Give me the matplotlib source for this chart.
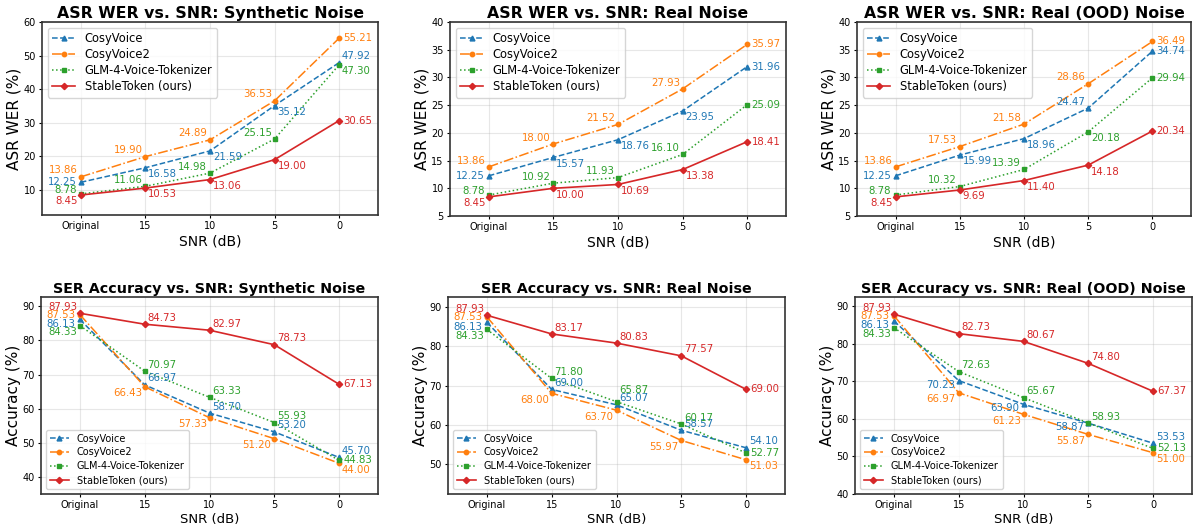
import matplotlib
matplotlib.use("Agg")
from matplotlib import pyplot as plt

# x categories
snr_labels = ['Original', '15', '10', '5', '0']
models = ['CosyVoice', 'CosyVoice2', 'GLM-4-Voice-Tokenizer', 'StableToken (ours)']

# ASR WER (%)
asr_syn_cosy = [12.25, 16.58, 21.59, 35.12, 47.92]
asr_syn_cosy2 = [13.86, 19.90, 24.89, 36.53, 55.21]
asr_syn_glm = [8.78, 11.06, 14.98, 25.15, 47.30]
asr_syn_stable = [8.45, 10.53, 13.06, 19.00, 30.65]

asr_real_cosy = [12.25, 15.57, 18.76, 23.95, 31.96]
asr_real_cosy2 = [13.86, 18.00, 21.52, 27.93, 35.97]
asr_real_glm = [8.78, 10.92, 11.93, 16.10, 25.09]
asr_real_stable = [8.45, 10.00, 10.69, 13.38, 18.41]

asr_ood_cosy = [12.25, 15.99, 18.96, 24.47, 34.74]
asr_ood_cosy2 = [13.86, 17.53, 21.58, 28.86, 36.49]
asr_ood_glm = [8.78, 10.32, 13.39, 20.18, 29.94]
asr_ood_stable = [8.45, 9.69, 11.40, 14.18, 20.34]

# SER accuracy (%)
ser_syn_cosy = [86.13, 66.97, 58.70, 53.20, 45.70]
ser_syn_cosy2 = [87.53, 66.43, 57.33, 51.20, 44.00]
ser_syn_glm = [84.33, 70.97, 63.33, 55.93, 44.83]
ser_syn_stable = [87.93, 84.73, 82.97, 78.73, 67.13]

ser_real_cosy = [86.13, 69.00, 65.07, 58.57, 54.10]
ser_real_cosy2 = [87.53, 68.00, 63.70, 55.97, 51.03]
ser_real_glm = [84.33, 71.80, 65.87, 60.17, 52.77]
ser_real_stable = [87.93, 83.17, 80.83, 77.57, 69.00]

ser_ood_cosy = [86.13, 70.23, 63.90, 58.87, 53.53]
ser_ood_cosy2 = [87.53, 66.97, 61.23, 55.87, 51.00]
ser_ood_glm = [84.33, 72.63, 65.67, 58.93, 52.13]
ser_ood_stable = [87.93, 82.73, 80.67, 74.80, 67.37]

colors = ['#1f77b4', '#ff7f0e', '#2ca02c', '#d62728']
styles = ['--', '-.', ':', '-']
markers = ['^', 'o', 's', 'D']

# label placement codes: (dx, dy, ha, va) in points
place = {
    'L': (-3, 0, 'right', 'center'),
    'Lu': (-3, 3, 'right', 'center'),
    'Ld': (-3, -3, 'right', 'center'),
    'LA': (-2, 1, 'right', 'bottom'),
    'LB': (-2, -1, 'right', 'top'),
    'R': (3, 0, 'left', 'center'),
    'RA': (2, 1, 'left', 'bottom'),
    'RA2': (2, 5, 'left', 'bottom'),
    'RB': (2, -1, 'left', 'top'),
}

W, H = 1200, 530


def rect(l, t, r, b):
    return [l / W, 1 - b / H, (r - l) / W, (b - t) / H]


panels = [
    dict(title='ASR WER vs. SNR: Synthetic Noise', ylabel='ASR WER (%)',
         data=[asr_syn_cosy, asr_syn_cosy2, asr_syn_glm, asr_syn_stable],
         ylim=(2.5, 60), step=10, legend='upper left', box=rect(42, 22, 378, 215),
         pos=[['L', 'RB', 'RB', 'RB', 'RA'], ['LA', 'LA', 'LA', 'LA', 'R'],
              ['Lu', 'LA', 'LA', 'LA', 'RB'], ['LB', 'RB', 'RB', 'RB', 'R']]),
    dict(title='ASR WER vs. SNR: Real Noise', ylabel='ASR WER (%)',
         data=[asr_real_cosy, asr_real_cosy2, asr_real_glm, asr_real_stable],
         ylim=(5, 40), step=5, legend='upper left', box=rect(450, 22, 786, 216),
         pos=[['L', 'RB', 'RB', 'RB', 'R'], ['LA', 'LA', 'LA', 'LA', 'R'],
              ['Lu', 'LA', 'LA', 'LA', 'R'], ['LB', 'RB', 'RB', 'RB', 'R']]),
    dict(title='ASR WER vs. SNR: Real (OOD) Noise', ylabel='ASR WER (%)',
         data=[asr_ood_cosy, asr_ood_cosy2, asr_ood_glm, asr_ood_stable],
         ylim=(5, 40), step=5, legend='upper left', box=rect(857, 22, 1191, 216),
         pos=[['L', 'RB', 'RB', 'LA', 'R'], ['LA', 'LA', 'LA', 'LA', 'R'],
              ['Lu', 'LA', 'LA', 'RB', 'R'], ['LB', 'RB', 'RB', 'RB', 'R']]),
    dict(title='SER Accuracy vs. SNR: Synthetic Noise', ylabel='Accuracy (%)',
         data=[ser_syn_cosy, ser_syn_cosy2, ser_syn_glm, ser_syn_stable],
         ylim=(35, 92.7), step=10, legend='lower left', box=rect(41, 297, 378, 494),
         pos=[['Ld', 'RA', 'RA', 'RA', 'RA'], ['L', 'LB', 'LB', 'LB', 'RB'],
              ['LB', 'RA', 'RA', 'RA', 'R'], ['LA', 'RA', 'RA', 'RA', 'R']]),
    dict(title='SER Accuracy vs. SNR: Real Noise', ylabel='Accuracy (%)',
         data=[ser_real_cosy, ser_real_cosy2, ser_real_glm, ser_real_stable],
         ylim=(42.3, 92.6), step=10, legend='lower left', box=rect(448, 297, 785, 494),
         pos=[['Ld', 'RA', 'RA', 'RA', 'RA'], ['L', 'LB', 'LB', 'LB', 'RB'],
              ['LB', 'RA', 'RA2', 'RA', 'R'], ['LA', 'RA', 'RA', 'RA', 'R']]),
    dict(title='SER Accuracy vs. SNR: Real (OOD) Noise', ylabel='Accuracy (%)',
         data=[ser_ood_cosy, ser_ood_cosy2, ser_ood_glm, ser_ood_stable],
         ylim=(40, 92.5), step=10, legend='lower left', box=rect(855, 297, 1192, 494),
         pos=[['Ld', 'Ld', 'Ld', 'Ld', 'RA'], ['L', 'LB', 'LB', 'LB', 'RB'],
              ['LB', 'RA', 'RA', 'RA', 'R'], ['LA', 'RA', 'RA', 'RA', 'R']]),
]

fig = plt.figure(figsize=(12, 5.3), dpi=100)
x = list(range(len(snr_labels)))

for i, p in enumerate(panels):
    ax = fig.add_axes(p['box'])
    top = i < 3
    for k, name in enumerate(models):
        vals = p['data'][k]
        ax.plot(x, vals, linestyle=styles[k], marker=markers[k], color=colors[k],
                markersize=3.2 if k != 0 else 3.5, linewidth=1.1 if k != 3 else 1.2,
                label=name)
        for j, v in enumerate(vals):
            dx, dy, ha, va = place[p['pos'][k][j]]
            ax.annotate('%.2f' % v, (x[j], v), xytext=(dx, dy), textcoords='offset points',
                        ha=ha, va=va, fontsize=7.3, color=colors[k])
    ax.set_xlim(-0.6, 4.6)
    ax.set_ylim(*p['ylim'])
    lo = p['ylim'][0]
    first = (int(lo / p['step']) + (0 if lo % p['step'] == 0 else 1)) * p['step']
    ax.set_yticks(list(range(int(first), int(p['ylim'][1]) + 1, p['step'])))
    ax.set_xticks(x)
    ax.set_xticklabels(snr_labels)
    ax.tick_params(labelsize=7, length=2.5, pad=2)
    ax.grid(True, alpha=0.3)
    for s in ax.spines.values():
        s.set_color('#333333')
        s.set_linewidth(1.2)
    ax.set_title(p['title'], fontsize=11.3 if top else 10.3, fontweight='bold', pad=3)
    ax.set_xlabel('SNR (dB)', fontsize=10 if top else 9.5, labelpad=2)
    ax.set_ylabel(p['ylabel'], fontsize=11, labelpad=1)
    if top:
        ax.legend(loc=p['legend'], fontsize=8.3, labelspacing=0.25)
    else:
        ax.legend(loc=p['legend'], fontsize=7, labelspacing=0.4)

fig.savefig('out.png', dpi=100)
